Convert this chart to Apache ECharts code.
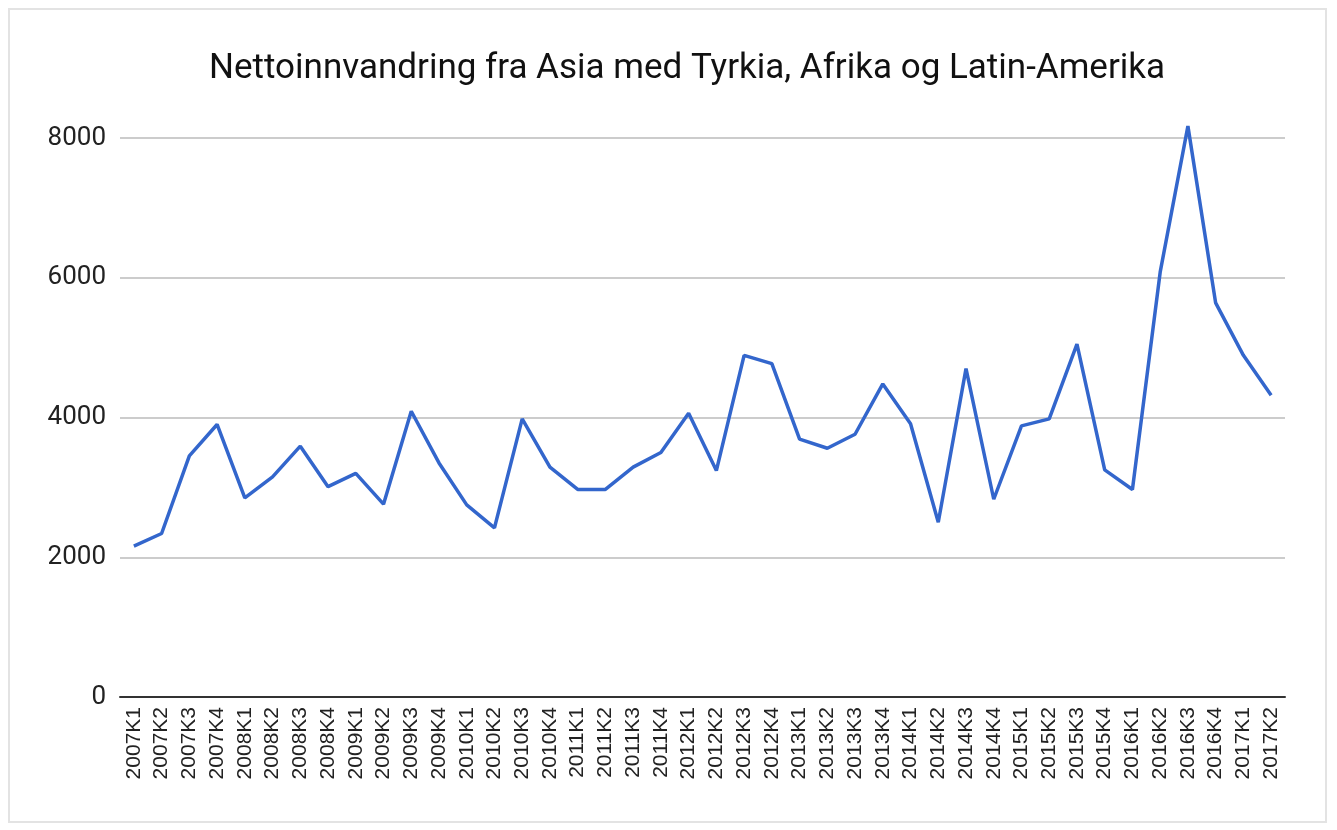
<!DOCTYPE html>
<html>
<head>
<meta charset="utf-8">
<script src="https://cdn.jsdelivr.net/npm/echarts@6/dist/echarts.min.js"></script>
<style>
  html, body { margin: 0; padding: 0; background: #fff; }
  #frame { position: absolute; left: 8px; top: 8px; width: 1319px; height: 815px; border: 2px solid #e3e3e3; box-sizing: border-box; }
  #chart { width: 1337px; height: 830px; }
</style>
</head>
<body>
<div id="frame"></div>
<div id="chart"></div>
<script>
// kvartaler
var quarters = [
  '2007K1','2007K2','2007K3','2007K4','2008K1','2008K2','2008K3','2008K4',
  '2009K1','2009K2','2009K3','2009K4','2010K1','2010K2','2010K3','2010K4',
  '2011K1','2011K2','2011K3','2011K4','2012K1','2012K2','2012K3','2012K4',
  '2013K1','2013K2','2013K3','2013K4','2014K1','2014K2','2014K3','2014K4',
  '2015K1','2015K2','2015K3','2015K4','2016K1','2016K2','2016K3','2016K4',
  '2017K1','2017K2'
];

// nettoinnvandring
var netMigration = [
  2160, 2340, 3450, 3900, 2850, 3150, 3590, 3010,
  3200, 2760, 4090, 3350, 2750, 2420, 3980, 3290,
  2970, 2970, 3290, 3500, 4060, 3240, 4890, 4770,
  3690, 3560, 3760, 4480, 3910, 2500, 4700, 2830,
  3880, 3980, 5050, 3250, 2970, 6080, 8170, 5640,
  4890, 4320
];

var yTicks = [0, 2000, 4000, 6000, 8000];

var myChart = echarts.init(document.getElementById('chart'));

var option = {
    animation: false,
    title: {
        text: 'Nettoinnvandring fra Asia med Tyrkia, Afrika og Latin-Amerika',
        left: 204,
        top: 47,
        textStyle: {
            fontFamily: 'Roboto',
            fontSize: 35,
            fontWeight: 'normal',
            color: '#111'
        }
    },
    grid: {
        left: 120,
        right: 52,
        top: 138,
        bottom: 133
    },
    xAxis: {
        type: 'category',
        data: quarters,
        boundaryGap: true,
        axisLine: { lineStyle: { color: '#333', width: 2 } },
        axisTick: { show: false },
        axisLabel: {
            rotate: 90,
            interval: 0,
            fontFamily: 'Liberation Sans',
            fontSize: 21,
            color: '#222',
            margin: 10
        }
    },
    yAxis: {
        type: 'value',
        min: yTicks[0],
        max: yTicks[yTicks.length - 1],
        interval: 2000,
        axisLine: { show: false },
        axisTick: { show: false },
        axisLabel: {
            fontFamily: 'Roboto',
            fontSize: 26,
            color: '#222',
            margin: 14,
            formatter: function (v) { return String(v); }
        },
        splitLine: { lineStyle: { color: '#cccccc', width: 2 } }
    },
    series: [
        {
            type: 'line',
            data: netMigration,
            symbol: 'none',
            clip: false,
            lineStyle: { color: '#3366cc', width: 3.5 },
            z: 3
        }
    ]
};

myChart.setOption(option);
</script>
</body>
</html>
